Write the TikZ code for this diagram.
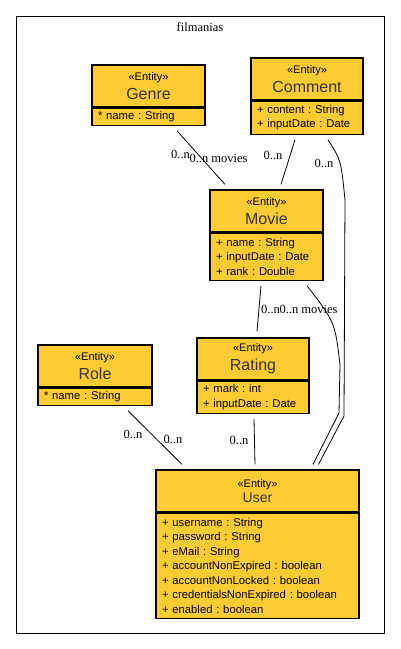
\documentclass[tikz,border=0pt]{standalone}
\usepackage{fontspec}
\setmainfont{Liberation Serif}
\setsansfont{Liberation Sans}
\usetikzlibrary{positioning}
\frenchspacing
\definecolor{entityfill}{RGB}{255,204,51}
\tikzstyle{head}=[draw, fill=entityfill, line width=1.2pt, minimum height=42pt,
    inner sep=0pt, align=center, font=\sffamily\fontsize{11}{19}\selectfont]
\tikzstyle{attrs}=[draw, fill=entityfill, line width=1.2pt, inner xsep=6pt,
    inner ysep=0pt, align=left, font=\sffamily\fontsize{11.3}{14.5}\selectfont]
\tikzstyle{mult}=[inner sep=0pt, font=\fontsize{12.5}{14}\selectfont]
\newcommand{\ename}[1]{{\color{black!80}\fontsize{16}{19}\selectfont #1}}

\begin{document}
\begin{tikzpicture}[x=1pt,y=-1pt,line width=0.8pt]
  \useasboundingbox (0,0) rectangle (400,649);
  \draw[line width=1pt] (16,16) rectangle (384,633);
  \node at (200,27) (pkg) {\fontsize{12.5}{14}\selectfont filmanias};

  \node at (148.5,86) (genreh)[head, minimum width=113pt] {«Entity»\\\ename{Genre}};
  \node[below=0pt of genreh] (genreb)[attrs, text width=101pt, minimum height=17pt] {* name : String};

  \node at (307,79) (commenth)[head, minimum width=112pt] {«Entity»\\\ename{Comment}};
  \node[below=0pt of commenth] (commentb)[attrs, text width=100pt, minimum height=33pt]
    {+ content : String\\+ inputDate : Date};

  \node at (266.5,211) (movieh)[head, minimum width=113pt] {«Entity»\\\ename{Movie}};
  \node[below=0pt of movieh] (movieb)[attrs, text width=101pt, minimum height=47pt]
    {+ name : String\\+ inputDate : Date\\+ rank : Double};

  \node at (95,366) (roleh)[head, minimum width=114pt] {«Entity»\\\ename{Role}};
  \node[below=0pt of roleh] (roleb)[attrs, text width=102pt, minimum height=17pt] {* name : String};

  \node at (253,359) (ratingh)[head, minimum width=112pt] {«Entity»\\\ename{Rating}};
  \node[below=0pt of ratingh] (ratingb)[attrs, text width=100pt, minimum height=32pt]
    {+ mark : int\\+ inputDate : Date};

  \node at (257.5,491) (userh)[head, minimum width=203pt, font=\sffamily\fontsize{11}{15}\selectfont]
    {«Entity»\\{\color{black!80}\fontsize{14}{15}\selectfont User}};
  \node[below=0pt of userh] (userb)[attrs, text width=191pt, minimum height=105pt]
    {+ username : String\\+ password : String\\+ eMail : String\\+ accountNonExpired : boolean\\
     + accountNonLocked : boolean\\+ credentialsNonExpired : boolean\\+ enabled : boolean};

  % associations
  \draw ([xshift=28.5pt,yshift=-5pt]genreb.south) -- ([xshift=-41.5pt,yshift=5pt]movieh.north);
  \draw ([xshift=-12pt,yshift=-5pt]commentb.south) -- ([xshift=14.5pt,yshift=5pt]movieh.north);
  \draw ([xshift=21pt,yshift=-5pt]commentb.south) .. controls (341,160) .. (345,200)
    -- (344,416) -- ([xshift=61pt,yshift=5pt]userh.north);
  \draw ([xshift=40.5pt,yshift=-5pt]movieb.south) .. controls (335,322) .. (340,365)
    -- (339,413) -- ([xshift=55.5pt,yshift=5pt]userh.north);
  \draw ([xshift=-5.5pt,yshift=-5pt]movieb.south) -- ([xshift=4pt,yshift=6pt]ratingh.north);
  \draw ([xshift=1pt,yshift=-5pt]ratingb.south) -- ([xshift=-2.5pt,yshift=5pt]userh.north);
  \draw ([xshift=33pt,yshift=-5pt]roleb.south) -- ([xshift=-75.5pt,yshift=5pt]userh.north);

  \node at (180.5,154) (m1)[mult] {0..n};
  \node at (218.5,158) (m2)[mult] {0..n movies};
  \node at (273,155) (m3)[mult] {0..n};
  \node at (324,163) (m4)[mult] {0..n};
  \node at (270.5,309) (m5)[mult] {0..n};
  \node at (308.5,309) (m6)[mult] {0..n movies};
  \node at (133,434) (m7)[mult] {0..n};
  \node at (173,439) (m8)[mult] {0..n};
  \node at (239,440) (m9)[mult] {0..n};
\end{tikzpicture}
\end{document}
